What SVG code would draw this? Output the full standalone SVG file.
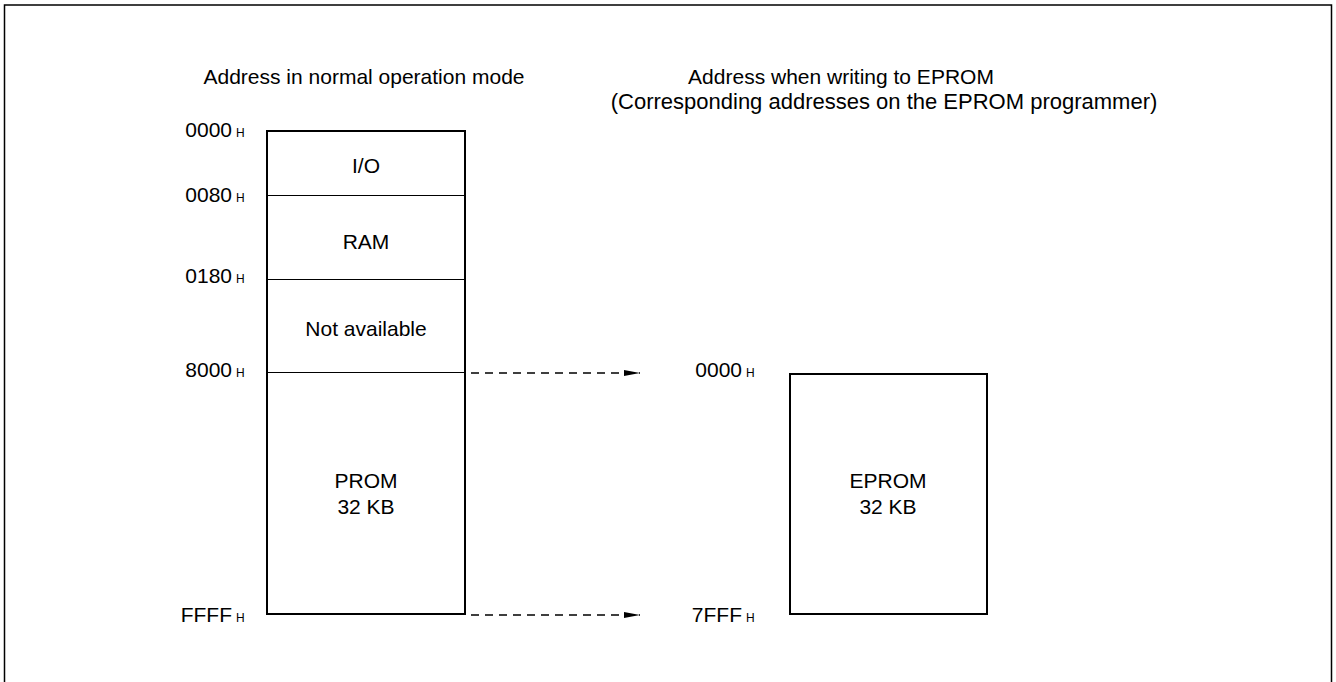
<svg xmlns="http://www.w3.org/2000/svg" width="1336" height="682" viewBox="0 0 1336 682">
<style>
  text { font-family: "Liberation Sans", Arial, sans-serif; fill: #000; }
  .t { font-size: 21px; }
  .c { text-anchor: middle; }
  .e { text-anchor: end; }
  .h { font-size: 12px; }
  .box { fill: #fff; stroke: #000; stroke-width: 2; }
  .div { stroke: #000; stroke-width: 1; fill: none; }
  .dash { stroke: #000; stroke-width: 1.5; stroke-dasharray: 8 6; fill: none; }
</style>
<defs>
  <marker id="arr" viewBox="0 0 16 8" refX="16" refY="4" markerWidth="16" markerHeight="8" markerUnits="userSpaceOnUse" orient="auto">
    <path d="M0,1 L16,4 L0,7 Z" fill="#000"/>
  </marker>
</defs>
<rect x="0" y="0" width="1336" height="682" fill="#fff"/>
<path d="M4.5,700 V5 H1331.5 V700" fill="none" stroke="#000" stroke-width="1.5"/>

<g id="titles">
  <text class="t c" x="364" y="84">Address in normal operation mode</text>
  <text class="t c" x="841" y="84">Address when writing to EPROM</text>
  <text class="c" x="884" y="109" font-size="22">(Corresponding addresses on the EPROM programmer)</text>
</g>

<g id="prom-map">
  <rect class="box" x="267" y="131" width="198" height="483"/>
  <line class="div" x1="267" y1="195.5" x2="465" y2="195.5"/>
  <line class="div" x1="267" y1="279.5" x2="465" y2="279.5"/>
  <line class="div" x1="267" y1="372.5" x2="465" y2="372.5"/>
  <text class="t c" x="366" y="173">I/O</text>
  <text class="t c" x="366" y="249">RAM</text>
  <text class="t c" x="366" y="336">Not available</text>
  <text class="t c" x="366" y="488">PROM</text>
  <text class="t c" x="366" y="514">32 KB</text>
</g>

<g id="left-addresses">
  <text class="t e" x="232" y="137">0000</text><text class="h" x="236" y="137">H</text>
  <text class="t e" x="232" y="202">0080</text><text class="h" x="236" y="202">H</text>
  <text class="t e" x="232" y="283">0180</text><text class="h" x="236" y="283">H</text>
  <text class="t e" x="232" y="377">8000</text><text class="h" x="236" y="377">H</text>
  <text class="t e" x="232" y="622">FFFF</text><text class="h" x="236" y="622">H</text>
</g>

<g id="eprom-map">
  <rect class="box" x="790" y="374" width="197" height="240"/>
  <text class="t c" x="888" y="488">EPROM</text>
  <text class="t c" x="888" y="514">32 KB</text>
</g>

<g id="right-addresses">
  <text class="t e" x="742" y="377">0000</text><text class="h" x="746" y="377">H</text>
  <text class="t e" x="742" y="622">7FFF</text><text class="h" x="746" y="622">H</text>
</g>

<g id="connectors">
  <line class="dash" x1="471" y1="373" x2="640" y2="373" marker-end="url(#arr)"/>
  <line class="dash" x1="471" y1="615" x2="640" y2="615" marker-end="url(#arr)"/>
</g>
</svg>
